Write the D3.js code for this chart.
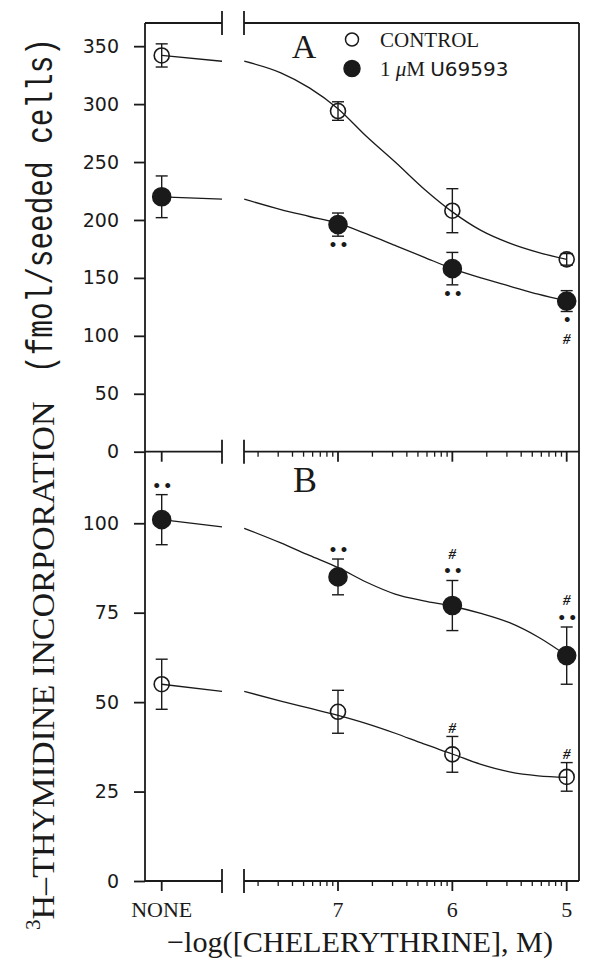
<!DOCTYPE html>
<html>
<head>
<meta charset="utf-8">
<script src="https://cdn.jsdelivr.net/npm/d3@7"></script>
<style>
body { margin: 0; background: #fff; }
</style>
</head>
<body>
<script>
var W = 600, H = 974;

// x: -log([chelerythrine], M), "NONE" = no chelerythrine
var doses = ["NONE", 7, 6, 5];
var doseLabels = ["NONE", "7", "6", "5"];

// panel A
var ctrlA = [342, 294, 208, 166];
var ctrlAErr = [10, 8, 19, 5];
var u69A = [220, 196, 158, 130];
var u69AErr = [18, 10, 14, 9];
var ctrlACurve = [[7.82, 337], [7.5, 327], [7.25, 314], [7, 296], [6.75, 272], [6.5, 250],
                  [6.25, 227], [6, 207], [5.75, 191], [5.5, 180], [5.25, 172], [5, 166]];
var u69ACurve = [[7.82, 218], [7.5, 209], [7.25, 203], [7, 197], [6.75, 188], [6.5, 178],
                 [6.25, 168], [6, 158], [5.75, 150], [5.5, 143], [5.25, 136], [5, 130]];
var ctrlALeft = [342, 337];
var u69ALeft = [220, 218];
var u69ASig = [[], ["••"], ["••"], ["•", "#"]];

// panel B
var ctrlB = [55, 47.3, 35.4, 29.1];
var ctrlBErr = [7, 6, 5, 4];
var u69B = [101, 85, 77, 63];
var u69BErr = [7, 5, 7, 8];
var ctrlBCurve = [[7.82, 53], [7.5, 50.3], [7.25, 48.3], [7, 46.3], [6.75, 44], [6.5, 41.3],
                  [6.25, 38.3], [6, 35.5], [5.75, 32.6], [5.5, 30.5], [5.25, 29.4], [5, 29]];
var u69BCurve = [[7.82, 98.6], [7.5, 94.5], [7.25, 91], [7, 87.6], [6.75, 83.5], [6.5, 80.2],
                 [6.25, 78.3], [6, 76.8], [5.75, 74.8], [5.5, 72.2], [5.25, 68.2], [5, 63]];
var ctrlBLeft = [55, 53];
var u69BLeft = [101, 99];
var u69BSig = [["••"], ["••"], ["••", "#"], ["••", "#"]];
var ctrlBSig = [[], [], ["#"], ["#"]];

var ticksA = [0, 50, 100, 150, 200, 250, 300, 350];
var ticksB = [0, 25, 50, 75, 100];

var serif = "'Liberation Serif', 'Times New Roman', serif";
var sans = "'DejaVu Sans', sans-serif";
var mono = "'Liberation Mono', 'DejaVu Sans Mono', monospace";
var ink = "#1a1a1a";

var svg = d3.select("body").append("svg")
  .attr("width", W).attr("height", H)
  .style("background", "#fff");

var left = 145, right = 579, brkL = 222, brkR = 244;
var yA = d3.scaleLinear().domain([0, 370]).range([451.7, 23]);
var yB = d3.scaleLinear().domain([0, 120]).range([881, 451.7]);
var xLog = d3.scaleLog().domain([1e-7, 1e-5]).range([338, 566.7]);
var xNone = d3.scaleLinear().domain([0, 1]).range([161.7, brkL]);

function px(d) { return d === "NONE" ? xNone(0) : xLog(Math.pow(10, -d)); }

// ---- axes lines ----
var axes = svg.append("g").attr("stroke", ink).attr("stroke-width", 1.8).attr("fill", "none");

function hline(y, ticks) {
  axes.append("line").attr("x1", left).attr("x2", brkL).attr("y1", y).attr("y2", y);
  axes.append("line").attr("x1", brkR).attr("x2", right).attr("y1", y).attr("y2", y);
  [brkL, brkR].forEach(function(bx) {
    axes.append("line").attr("x1", bx).attr("x2", bx).attr("y1", y - 12).attr("y2", y + 12);
  });
  if (!ticks) return;
  // tick at NONE
  axes.append("line").attr("x1", xNone(0)).attr("x2", xNone(0)).attr("y1", y).attr("y2", y + 10);
  var minor = d3.scaleLog().domain([xLog.invert(brkR), xLog.invert(right)]).ticks();
  minor.forEach(function(c) {
    var major = Math.abs(Math.log10(c) - Math.round(Math.log10(c))) < 1e-6;
    axes.append("line")
      .attr("x1", xLog(c)).attr("x2", xLog(c))
      .attr("y1", y).attr("y2", y + (major ? 10 : 5))
      .attr("stroke-width", major ? 1.8 : 1.3);
  });
}
hline(yA(370), false);
hline(yA(0), true);
hline(yB(0), true);

// left and right borders
axes.append("line").attr("x1", left).attr("x2", left).attr("y1", yA(370)).attr("y2", yB(0));
axes.append("line").attr("x1", right).attr("x2", right).attr("y1", yA(370)).attr("y2", yB(0));

// y axes
function yAxis(scale, vals) {
  var g = svg.append("g").attr("transform", "translate(" + left + ",0)")
    .call(d3.axisLeft(scale).tickValues(vals).tickSize(11).tickPadding(15));
  g.select(".domain").remove();
  g.selectAll(".tick line").attr("stroke", ink).attr("stroke-width", 1.8);
  g.selectAll(".tick text").attr("fill", ink)
    .style("font-family", sans).style("font-size", "19px");
}
yAxis(yA, ticksA);
yAxis(yB, ticksB);

// x tick labels
svg.append("g").selectAll("text").data(doses).enter().append("text")
  .attr("x", function(d) { return px(d); })
  .attr("y", 917)
  .attr("text-anchor", "middle")
  .attr("fill", ink)
  .style("font-family", serif).style("font-size", "22px")
  .text(function(d, i) { return doseLabels[i]; });

// x title
svg.append("text")
  .attr("x", 167).attr("y", 952)
  .attr("textLength", 386).attr("lengthAdjust", "spacingAndGlyphs")
  .attr("fill", ink)
  .style("font-family", serif).style("font-size", "30px")
  .text("\u2212log([CHELERYTHRINE], M)");

// y title (rotated)
var yt = svg.append("text")
  .attr("transform", "translate(54,930) rotate(-90)")
  .attr("fill", ink)
  .style("font-family", serif).style("font-size", "32px");
yt.append("tspan").attr("dy", -14).style("font-size", "21px").text("3");
yt.append("tspan").attr("dy", 14)
  .attr("textLength", 518).attr("lengthAdjust", "spacingAndGlyphs")
  .text("H\u2013THYMIDINE INCORPORATION");

svg.append("text")
  .attr("transform", "translate(52,373) rotate(-90) scale(1,1.3)")
  .attr("textLength", 335).attr("lengthAdjust", "spacingAndGlyphs")
  .attr("fill", ink)
  .style("font-family", mono).style("font-size", "29px")
  .text("(fmol/seeded cells)");

// ---- series ----
var curve = d3.line()
  .x(function(d) { return xLog(Math.pow(10, -d[0])); })
  .curve(d3.curveMonotoneX);

function series(y, vals, errs, curvePts, leftPts, filled, sig, sigBelow) {
  var g = svg.append("g");
  g.append("path")
    .attr("d", curve.y(function(d) { return y(d[1]); })(curvePts))
    .attr("fill", "none").attr("stroke", ink).attr("stroke-width", 1.3);
  g.append("path")
    .attr("d", d3.line().x(function(d, i) { return xNone(i); }).y(function(d) { return y(d); })(leftPts))
    .attr("fill", "none").attr("stroke", ink).attr("stroke-width", 1.3);

  var pts = g.selectAll(".pt").data(doses).enter().append("g")
    .attr("transform", function(d) { return "translate(" + px(d) + ",0)"; });
  pts.append("line")
    .attr("y1", function(d, i) { return y(vals[i] + errs[i]); })
    .attr("y2", function(d, i) { return y(vals[i] - errs[i]); })
    .attr("stroke", ink).attr("stroke-width", 1.4);
  [1, -1].forEach(function(s) {
    pts.append("line")
      .attr("x1", -6).attr("x2", 6)
      .attr("y1", function(d, i) { return y(vals[i] + s * errs[i]); })
      .attr("y2", function(d, i) { return y(vals[i] + s * errs[i]); })
      .attr("stroke", ink).attr("stroke-width", 1.4);
  });
  pts.append("circle")
    .attr("cy", function(d, i) { return y(vals[i]); })
    .attr("r", filled ? 9 : 7.5)
    .attr("fill", filled ? ink : "none")
    .attr("stroke", ink).attr("stroke-width", 1.6);

  // significance marks
  pts.each(function(d, i) {
    var edge = sigBelow ? y(vals[i] - errs[i]) : y(vals[i] + errs[i]);
    var sgn = sigBelow ? 1 : -1;
    sig[i].forEach(function(s, k) {
      var cy = edge + sgn * (9 + k * 18);
      d3.select(this).append("text")
        .attr("x", s === "#" ? 0 : 1.5)
        .attr("y", cy)
        .attr("dy", "0.35em")
        .attr("text-anchor", "middle")
        .attr("fill", ink)
        .style("font-family", s === "#" ? serif : sans)
        .style("font-size", s === "#" ? "15px" : "14px")
        .style("font-style", s === "#" ? "italic" : "normal")
        .style("font-weight", "bold")
        .style("letter-spacing", s === "#" ? "0px" : "2px")
        .text(s);
    }, this);
  });
}

var none4 = [[], [], [], []];
series(yA, ctrlA, ctrlAErr, ctrlACurve, ctrlALeft, false, none4, true);
series(yA, u69A, u69AErr, u69ACurve, u69ALeft, true, u69ASig, true);
series(yB, ctrlB, ctrlBErr, ctrlBCurve, ctrlBLeft, false, ctrlBSig, false);
series(yB, u69B, u69BErr, u69BCurve, u69BLeft, true, u69BSig, false);

// panel letters
svg.append("text").attr("x", 304).attr("y", 58).attr("text-anchor", "middle")
  .attr("fill", ink).style("font-family", serif).style("font-size", "34px").text("A");
svg.append("text").attr("x", 305).attr("y", 492).attr("text-anchor", "middle")
  .attr("fill", ink).style("font-family", serif).style("font-size", "36px").text("B");

// legend
var legend = [
  { filled: false, label: "CONTROL" },
  { filled: true, label: "1 \u03bcM U69593" }
];
var lg = svg.append("g").selectAll("g").data(legend).enter().append("g")
  .attr("transform", function(d, i) { return "translate(352," + (39.5 + i * 29) + ")"; });
lg.append("circle")
  .attr("r", function(d) { return d.filled ? 8 : 6.5; })
  .attr("fill", function(d) { return d.filled ? ink : "none"; })
  .attr("stroke", ink).attr("stroke-width", 1.5);
lg.append("text")
  .attr("x", 28).attr("y", 7)
  .attr("fill", ink)
  .style("font-family", serif).style("font-size", "21px")
  .each(function(d) {
    var t = d3.select(this);
    if (!d.filled) { t.text(d.label); return; }
    t.append("tspan").text("1 ");
    t.append("tspan").style("font-style", "italic").text("\u03bc");
    t.append("tspan").text("M ");
    t.append("tspan").style("font-family", sans).style("font-size", "20px").text("U69593");
  });
</script>
</body>
</html>
